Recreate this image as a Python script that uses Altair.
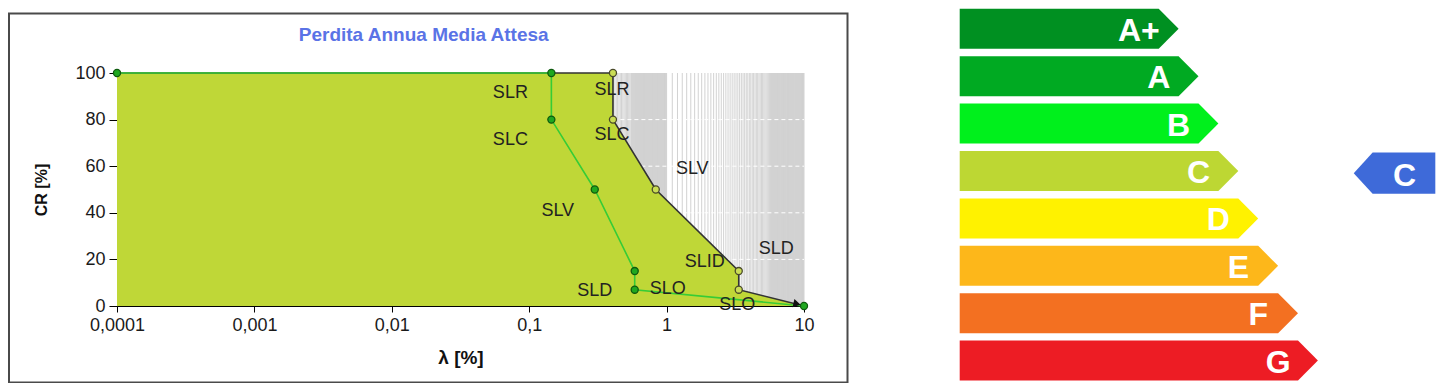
import altair as alt
import pandas as pd

# ---------------- data ----------------
# green curve (lambda [%], CR [%])
lam_green = [0.0001, 0.145, 0.145, 0.30, 0.586, 0.586, 10]
cr_green = [100, 100, 80, 50, 15, 7, 0]
lab_green = ["", "SLR", "SLC", "SLV", "SLD", "SLO", ""]

# black curve
lam_black = [0.0001, 0.407, 0.407, 0.834, 3.35, 3.35, 10]
cr_black = [100, 100, 80, 50, 15, 7, 0]
lab_black = ["", "SLR", "SLC", "SLV", "SLD", "SLO", ""]
extra_label = ("SLID", 3.35, 15)

x_ticks = [0.0001, 0.001, 0.01, 0.1, 1, 10]
y_ticks = [0, 20, 40, 60, 80, 100]

# minor log grid (decorative)
grid_x = [round(0.41 + 0.01 * k, 2) for k in range(59)] + [round(1 + 0.1 * k, 1) for k in range(91)]
gray_bands_lo = [0.55, 6.1]
gray_bands_hi = [1.0, 10]
hgrid_y = [20, 40, 60, 80]

classes = ["A+", "A", "B", "C", "D", "E", "F", "G"]
class_colors = ["#009021", "#00AA22", "#00F01C", "#BDD733", "#FFF200", "#FDB71A", "#F37021", "#ED1C24"]
current_class = "C"

FONT = "Liberation Sans"
W, H = 687, 233

# ---------------- left chart ----------------
dg = pd.DataFrame({"lam": lam_green, "cr": cr_green, "lab": lab_green, "idx": range(len(lam_green))})
db = pd.DataFrame({"lam": lam_black, "cr": cr_black, "lab": lab_black, "idx": range(len(lam_black))})

xs = alt.Scale(type="log", domain=[0.0001, 10], nice=False)
ys = alt.Scale(domain=[0, 100], nice=False, zero=False)

xax = alt.Axis(values=x_ticks, format="~g", labelExpr="replace(datum.label, '.', ',')",
               title="λ [%]", titleFont=FONT, titleFontSize=19, titleFontWeight="bold", titleColor="#111",
               titleX=343.5, titleY=51, titleBaseline="middle", titleAlign="center",
               labelFont=FONT, labelFontSize=18, labelColor="#1a1a1a", labelPadding=4,
               tickSize=6, tickColor="#000", domainColor="#000", grid=False, labelFlush=False)
yax = alt.Axis(values=y_ticks, title="CR [%]", titleFont=FONT, titleFontSize=16, titleFontWeight="bold",
               titleColor="#111", titleX=-76, titleY=116.5, titleAngle=270, titleBaseline="middle",
               titleAlign="center",
               labelFont=FONT, labelFontSize=18, labelColor="#1a1a1a", labelPadding=4,
               tickSize=8, tickColor="#000", domainColor="#000", grid=False)

bands = alt.Chart(pd.DataFrame({"lo": gray_bands_lo, "hi": gray_bands_hi})).mark_rect(
    color="#D4D4D4", opacity=1).encode(
    x=alt.X("lo:Q", scale=xs, axis=xax), x2="hi:Q",
    y=alt.datum(0, scale=ys, axis=yax), y2=alt.datum(100)
)
grid = alt.Chart(pd.DataFrame({"gx": grid_x})).mark_rule(color="#D2D2D2", strokeWidth=1).encode(
    x="gx:Q", y=alt.datum(0), y2=alt.datum(100)
)
hgrid_w = alt.Chart(pd.DataFrame({"hy": hgrid_y})).mark_rule(
    color="white", strokeWidth=1, strokeDash=[4, 3]).encode(
    x=alt.datum(0.41), x2=alt.datum(10), y="hy:Q"
)

fill = alt.Chart(db).mark_area(color="#BFD737", opacity=1).encode(
    x="lam:Q", y=alt.Y("cr:Q", stack=None)
)
bline = alt.Chart(db).mark_line(color="#333333", strokeWidth=1.6).encode(
    x="lam:Q", y="cr:Q", order="idx:Q"
)
gline = alt.Chart(dg).mark_line(color="#36CC36", strokeWidth=1.6).encode(
    x="lam:Q", y="cr:Q", order="idx:Q"
)
arrow = alt.Chart(db.iloc[[-1]]).mark_point(shape="triangle-right", filled=True, color="#111",
                                             size=70, angle=13, xOffset=-7, yOffset=-2, opacity=1).encode(
    x="lam:Q", y="cr:Q"
)
bpts = alt.Chart(db.iloc[1:6]).mark_point(shape="circle", filled=True, fill="#CADD55", stroke="#4a4a2a",
                                          strokeWidth=1.3, size=50, opacity=1).encode(x="lam:Q", y="cr:Q")
gpts = alt.Chart(dg).mark_point(shape="circle", filled=True, fill="#1FA81F", stroke="#0E5A0E",
                                strokeWidth=1.3, size=50, opacity=1).encode(x="lam:Q", y="cr:Q")

# label offsets (pixels) per point
g_off = {1: (-41, 20), 2: (-41, 20), 3: (-37, 21), 4: (-40, 19.5), 5: (33, -0.5)}
b_off = {1: (-1, 17), 2: (-1, 15), 3: (36.5, -21), 4: (37.5, -22), 5: (-1.5, 15.5)}

labels = []
for lams, crs, labs, offs in [(lam_green, cr_green, lab_green, g_off),
                              (lam_black, cr_black, lab_black, b_off)]:
    for i, (dx, dy) in offs.items():
        labels.append(
            alt.Chart(pd.DataFrame({"lam": [lams[i]], "cr": [crs[i]], "lab": [labs[i]]}))
            .mark_text(font=FONT, fontSize=18, color="#222", dx=dx, dy=dy, align="center", baseline="middle")
            .encode(x="lam:Q", y="cr:Q", text="lab:N")
        )
labels.append(
    alt.Chart(pd.DataFrame({"lam": [extra_label[1]], "cr": [extra_label[2]], "lab": [extra_label[0]]}))
    .mark_text(font=FONT, fontSize=18, color="#222", dx=-34, dy=-9.5, align="center", baseline="middle")
    .encode(x="lam:Q", y="cr:Q", text="lab:N")
)

left = alt.layer(bands, grid, hgrid_w, fill, bline, gline, arrow, bpts, gpts, *labels)

one = pd.DataFrame({"a": [0]})
frame = alt.Chart(one).mark_rect(fillOpacity=0, stroke="#4a4a4a", strokeWidth=2).encode(
    x=alt.value(-108.0), x2=alt.value(730.5), y=alt.value(-59.5), y2=alt.value(309.5)
)
title = alt.Chart(one).mark_text(font=FONT, fontSize=19, fontWeight="bold", color="#5A73E6",
                                 align="center", baseline="middle").encode(
    x=alt.value(306.7), y=alt.value(-38.5), text=alt.value("Perdita Annua Media Attesa")
)

# ---------------- energy classes ----------------
BASE, TIP, BH = 10, 1, 0.844
rows = []
for i, c in enumerate(classes):
    rows += [dict(cls=c, u=0, top=i, bot=i + BH),
             dict(cls=c, u=BASE + i, top=i, bot=i + BH),
             dict(cls=c, u=BASE + i + TIP, top=i + BH / 2, bot=i + BH / 2)]
de = pd.DataFrame(rows)
dl = pd.DataFrame({"cls": classes, "u": [BASE - 1 + i for i in range(len(classes))],
                   "r": [i + BH / 2 for i in range(len(classes))]})

exs = alt.Scale(domain=[0, 24], range=[842.7, 1320.3], nice=False, zero=False)
eys = alt.Scale(domain=[0, 8], range=[-64.2, 315.0], nice=False, zero=False)
ecol = alt.Scale(domain=classes, range=class_colors)

e_area = alt.Chart(de).mark_area(opacity=1, interpolate="linear").encode(
    x=alt.X("u:Q", scale=exs, axis=None), y=alt.Y("top:Q", scale=eys, axis=None, stack=None), y2="bot:Q",
    color=alt.Color("cls:N", scale=ecol, legend=None)
)
e_text = alt.Chart(dl).mark_text(font=FONT, fontSize=32, fontWeight="bold", color="white",
                                 align="center", baseline="middle", dy=2).encode(
    x="u:Q", y="r:Q", text="cls:N"
)
k = classes.index(current_class)
di = pd.DataFrame([dict(u=19.8, top=k + 0.467, bot=k + 0.467),
                   dict(u=20.75, top=k + 0.032, bot=k + 0.903),
                   dict(u=23.9, top=k + 0.032, bot=k + 0.903)])
i_area = alt.Chart(di).mark_area(color="#3E6AD9", opacity=1).encode(
    x="u:Q", y=alt.Y("top:Q", stack=None), y2="bot:Q")
i_text = alt.Chart(pd.DataFrame({"u": [22.36], "r": [k + 0.49], "t": [current_class]})).mark_text(
    font=FONT, fontSize=32, fontWeight="bold", color="white", align="center", baseline="middle", dy=2
).encode(x="u:Q", y="r:Q", text="t:N")

energy = alt.layer(e_area, e_text, i_area, i_text)

chart = alt.layer(left, energy, frame, title).resolve_scale(
    x="independent", y="independent", color="independent"
).properties(width=W, height=H, padding=0).configure_view(stroke=None)

chart.save("out.html", embed_options={"renderer": "svg", "actions": False})
